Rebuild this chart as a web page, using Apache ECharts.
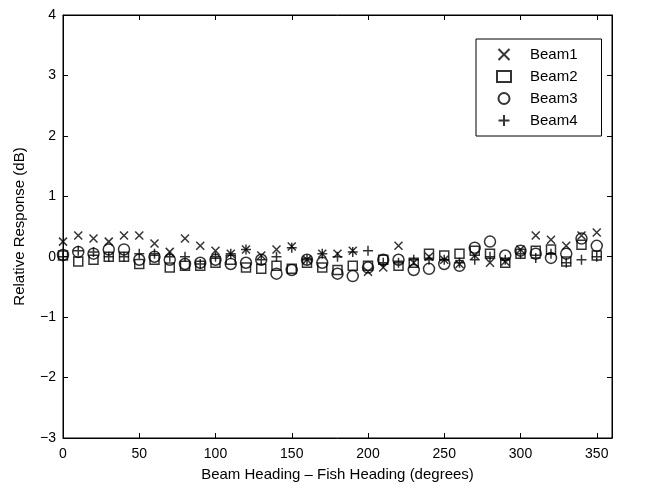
<!DOCTYPE html>
<html><head><meta charset="utf-8">
<script src="https://cdn.jsdelivr.net/npm/echarts@6/dist/echarts.min.js"></script>
<style>html,body{margin:0;padding:0;background:#fff}#c{width:650px;height:492px}</style>
</head><body><div id="c"></div>
<script>
var headings = [0,10,20,30,40,50,60,70,80,90,100,110,120,130,140,150,160,170,180,190,200,210,220,230,240,250,260,270,280,290,300,310,320,330,340,350];
var beam1 = [0.25,0.35,0.30,0.25,0.35,0.35,0.22,0.08,0.30,0.18,0.10,0.05,0.12,0.02,0.12,0.17,-0.05,0.05,0.05,0.10,-0.25,-0.18,0.18,-0.10,0.00,-0.05,-0.12,0.02,-0.10,-0.08,0.12,0.35,0.28,0.18,0.35,0.40];
var beam2 = [0.02,-0.08,-0.05,0.00,0.00,-0.12,-0.05,-0.18,-0.15,-0.15,-0.10,-0.05,-0.18,-0.20,-0.15,-0.20,-0.10,-0.18,-0.22,-0.15,-0.15,-0.05,-0.15,-0.10,0.05,0.02,0.05,0.10,0.05,-0.10,0.05,0.10,0.12,-0.08,0.20,0.02];
var beam3 = [0.03,0.08,0.05,0.12,0.12,-0.05,0.00,-0.05,-0.12,-0.10,-0.05,-0.12,-0.10,-0.05,-0.28,-0.22,-0.05,-0.10,-0.28,-0.32,-0.18,-0.05,-0.05,-0.22,-0.20,-0.12,-0.15,0.15,0.25,0.02,0.10,0.05,-0.02,0.05,0.30,0.18];
var beam4 = [0.00,0.10,0.08,0.00,0.00,0.05,0.05,0.00,0.00,-0.12,0.00,0.05,0.12,-0.05,0.00,0.15,-0.05,0.05,0.00,0.08,0.10,-0.10,-0.10,-0.05,-0.05,-0.05,-0.10,-0.05,0.00,-0.05,0.05,-0.02,0.05,-0.10,-0.05,0.00];
var seriesNames = ['Beam1','Beam2','Beam3','Beam4'];
var xTicks = [0,50,100,150,200,250,300,350];
var yTicks = [-3,-2,-1,0,1,2,3,4];

function pairs(ys){ return headings.map(function(h,i){ return [h, ys[i]]; }); }
var font = 'Liberation Sans, Arial, Helvetica, sans-serif';
var minus = function(v){ return String(v).replace('-', '\u2212'); };
var stroke = {color:'transparent', borderColor:'#000', borderWidth:1.5};
var line = {show:true, onZero:false, lineStyle:{color:'#000', width:1}};
var tick = {show:true, inside:true, length:5, lineStyle:{color:'#000'}};

var chart = echarts.init(document.getElementById('c'), null, {renderer:'canvas'});
chart.setOption({
  animation:false,
  backgroundColor:'#fff',
  grid:{left:63, right:38, top:15, bottom:54, show:true, borderColor:'#000', borderWidth:1, backgroundColor:'#fff'},
  legend:{
    left:476, top:39, orient:'vertical',
    borderColor:'#000', borderWidth:1, backgroundColor:'#fff',
    padding:[8,24,8,20], itemGap:7, itemWidth:14, itemHeight:11,
    textStyle:{fontFamily:font, fontSize:15, color:'#000', padding:[0,0,0,14]},
    data:seriesNames
  },
  xAxis:[{
    type:'value', min:0, max:360, interval:50,
    name:'Beam Heading \u2013 Fish Heading (degrees)', nameLocation:'middle', nameGap:29,
    nameTextStyle:{fontFamily:font, fontSize:15, color:'#000'},
    axisLine:line, axisTick:tick,
    axisLabel:{fontFamily:font, fontSize:14, color:'#000', margin:9, showMaxLabel:false,
      formatter:function(v){ return xTicks.indexOf(v)>=0 ? String(v) : ''; }},
    splitLine:{show:false}
  },{
    type:'value', position:'top', min:0, max:360, interval:50,
    axisLine:line, axisTick:tick,
    axisLabel:{show:false}, splitLine:{show:false}
  }],
  yAxis:[{
    type:'value', min:-3, max:4, interval:1,
    name:'Relative Response (dB)', nameLocation:'middle', nameGap:36,
    nameTextStyle:{fontFamily:font, fontSize:15, color:'#000'},
    axisLine:line, axisTick:tick,
    axisLabel:{fontFamily:font, fontSize:14, color:'#000', margin:7,
      formatter:function(v){ return yTicks.indexOf(v)>=0 ? minus(v) : ''; }},
    splitLine:{show:false}
  },{
    type:'value', position:'right', min:-3, max:4, interval:1,
    axisLine:line, axisTick:tick,
    axisLabel:{show:false}, splitLine:{show:false}
  }],
  series:[
    {name:'Beam1', type:'scatter', data:pairs(beam1), symbol:'path://M0,0L10,10M10,0L0,10', symbolSize:8, itemStyle:stroke},
    {name:'Beam2', type:'scatter', data:pairs(beam2), symbol:'rect', symbolSize:9, itemStyle:stroke},
    {name:'Beam3', type:'scatter', data:pairs(beam3), symbol:'circle', symbolSize:11, itemStyle:stroke},
    {name:'Beam4', type:'scatter', data:pairs(beam4), symbol:'path://M5,0L5,10M0,5L10,5', symbolSize:10, itemStyle:stroke}
  ]
});
</script></body></html>
